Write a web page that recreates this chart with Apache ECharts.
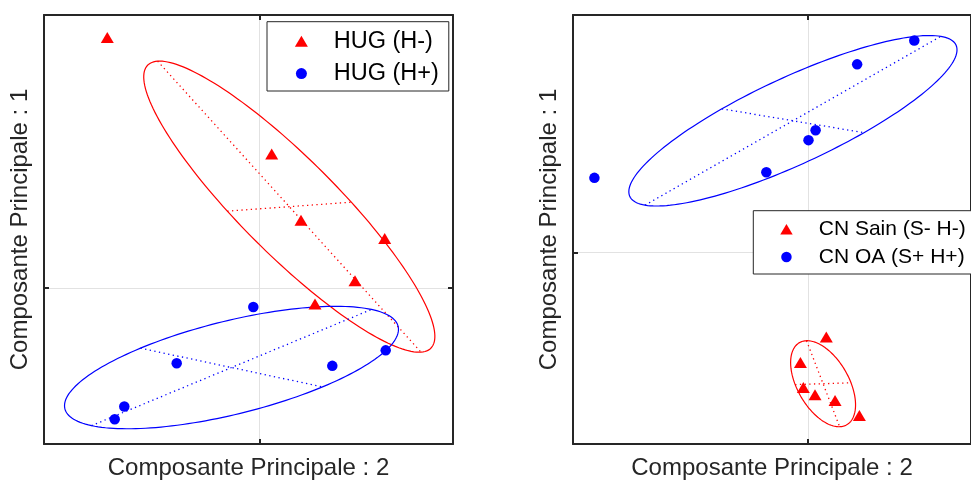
<!DOCTYPE html>
<html>
<head>
<meta charset="utf-8">
<script src="https://cdn.jsdelivr.net/npm/echarts@6/dist/echarts.min.js"></script>
<style>
html,body{margin:0;padding:0;background:#fff;}
#chart{width:971px;height:485px;}
</style>
</head>
<body>
<div id="chart"></div>
<script>
// ---- data ----
const hugNegX = [-1.524, 0.12, 0.413, 1.25, 0.953, 0.553];
const hugNegY = [2.523, 1.35, 0.683, 0.50, 0.073, -0.16];
const hugPosX = [-0.064, -0.83, 0.726, 1.26, -1.354, -1.45];
const hugPosY = [-0.19, -0.757, -0.783, -0.627, -1.193, -1.32];
const cnSainX = [0.186, -0.08, -0.05, 0.07, 0.276, 0.526];
const cnSainY = [-0.853, -1.11, -1.36, -1.433, -1.493, -1.643];
const cnOaX = [-2.197, -0.43, 0.003, 0.076, 0.503, 1.09];
const cnOaY = [0.75, 0.807, 1.13, 1.23, 1.893, 2.133];
// ellipses: [centerX, centerY, majorEndX, majorEndY, minorEndX, minorEndY]
const hugNegEllipse = [0.296, 0.82, 1.613, -0.645, 0.916, 0.865];
const hugPosEllipse = [-0.282, -0.80, 1.118, -0.215, 0.628, -0.995];
const cnSainEllipse = [0.153, -1.323, 0.323, -1.756, 0.44, -1.314];
const cnOaEllipse = [-0.157, 1.325, 1.363, 2.175, 0.573, 1.205];
const seriesNames = ['HUG (H-)', 'HUG (H+)', 'CN Sain (S- H-)', 'CN OA (S+ H+)'];
const xTitle = 'Composante Principale : 2';
const yTitle = 'Composante Principale : 1';
const leftRange = {xMin: -2.157, xMax: 1.933, yMin: -1.57, yMax: 2.75};
const rightRange = {xMin: -2.417, xMax: 1.673, yMin: -1.93, yMax: 2.39};
const zeroTicks = [0];

const FONT = "'Liberation Sans', Arial, sans-serif";
const DARK = '#262626';
const RED = '#ff0000', BLUE = '#0000ff';
// triangle legend icon, padded horizontally so it is not stretched across the icon box
const TRI_ICON = 'path://M0,5.5 L0,5.5 M54.6,5.5 L54.6,5.5 M27.3,0 L33.8,11 L20.8,11 Z';

function zip(xs, ys) { return xs.map((x, i) => [x, ys[i]]); }

function makeAxis(gridIndex, position, min, max, name, primary) {
  return {
    type: 'value', gridIndex, position, min, max,
    name: name || '', nameLocation: 'middle', nameGap: 12,
    nameTextStyle: {fontSize: 24, color: DARK, fontFamily: FONT, lineHeight: 24},
    axisLine: {show: true, onZero: false, lineStyle: {color: DARK, width: 2}},
    axisTick: {show: true, inside: true, length: 5, customValues: zeroTicks, lineStyle: {color: DARK, width: 2}},
    axisLabel: {show: false},
    splitLine: {show: !!primary, lineStyle: {color: '#e2e2e2', width: 1}}
  };
}

function ellipseRender(params, api) {
  const c = api.coord([api.value(0), api.value(1)]);
  const m = api.coord([api.value(2), api.value(3)]);
  const n = api.coord([api.value(4), api.value(5)]);
  const u = [m[0] - c[0], m[1] - c[1]];
  const v = [n[0] - c[0], n[1] - c[1]];
  const pts = [];
  const N = 180;
  for (let i = 0; i <= N; i++) {
    const t = i / N * 2 * Math.PI;
    pts.push([c[0] + Math.cos(t) * u[0] + Math.sin(t) * v[0],
              c[1] + Math.cos(t) * u[1] + Math.sin(t) * v[1]]);
  }
  const color = api.visual('color');
  return {
    type: 'group',
    children: [
      {type: 'polyline', shape: {points: pts}, style: {stroke: color, fill: null, lineWidth: 1.2}},
      {type: 'line', shape: {x1: c[0] - u[0], y1: c[1] - u[1], x2: m[0], y2: m[1]},
       style: {stroke: color, lineWidth: 1.3, lineDash: [1.3, 3.4]}},
      {type: 'line', shape: {x1: c[0] - v[0], y1: c[1] - v[1], x2: n[0], y2: n[1]},
       style: {stroke: color, lineWidth: 1.3, lineDash: [1.3, 3.4]}}
    ]
  };
}

function ellipseSeries(data, color, xi, yi) {
  return {type: 'custom', xAxisIndex: xi, yAxisIndex: yi, data: [data],
          itemStyle: {color}, renderItem: ellipseRender, clip: true, z: 2, silent: true};
}
function scatterSeries(name, data, color, symbol, xi, yi) {
  return {type: 'scatter', name, data, xAxisIndex: xi, yAxisIndex: yi,
          symbol, symbolSize: symbol === 'triangle' ? [13, 11] : 10.5,
          itemStyle: {color, opacity: 1}, z: 3};
}

const chart = echarts.init(document.getElementById('chart'), null, {renderer: 'canvas'});
chart.setOption({
  animation: false,
  backgroundColor: '#ffffff',
  grid: [
    {left: 44, top: 15, width: 409, height: 432},
    {left: 573, top: 15, width: 409, height: 432}
  ],
  xAxis: [
    makeAxis(0, 'bottom', leftRange.xMin, leftRange.xMax, xTitle, true),
    makeAxis(0, 'top', leftRange.xMin, leftRange.xMax, '', false),
    makeAxis(1, 'bottom', rightRange.xMin, rightRange.xMax, xTitle, true),
    makeAxis(1, 'top', rightRange.xMin, rightRange.xMax, '', false)
  ],
  yAxis: [
    makeAxis(0, 'left', leftRange.yMin, leftRange.yMax, yTitle, true),
    makeAxis(0, 'right', leftRange.yMin, leftRange.yMax, '', false),
    makeAxis(1, 'left', rightRange.yMin, rightRange.yMax, yTitle, true),
    makeAxis(1, 'right', rightRange.yMin, rightRange.yMax, '', false)
  ],
  legend: [
    {
      orient: 'vertical', left: 267, top: 21.7, selectedMode: false,
      data: [{name: seriesNames[0], icon: TRI_ICON}, {name: seriesNames[1], icon: 'circle'}],
      itemWidth: 54.6, itemHeight: 11, itemGap: 8.3,
      padding: [7.6, 10, 5.4, 7.1],
      borderColor: DARK, borderWidth: 1, backgroundColor: '#ffffff',
      textStyle: {fontSize: 23.5, lineHeight: 24, color: '#000', fontFamily: FONT}
    },
    {
      orient: 'vertical', left: 753.3, top: 210.7, selectedMode: false,
      data: [{name: seriesNames[2], icon: TRI_ICON}, {name: seriesNames[3], icon: 'circle'}],
      itemWidth: 54.6, itemHeight: 10.5, itemGap: 6.7,
      padding: [8.1, 10, 6.5, 7.1],
      borderColor: DARK, borderWidth: 1, backgroundColor: '#ffffff',
      textStyle: {fontSize: 21, lineHeight: 21, color: '#000', fontFamily: FONT}
    }
  ],
  series: [
    ellipseSeries(hugNegEllipse, RED, 0, 0),
    ellipseSeries(hugPosEllipse, BLUE, 0, 0),
    ellipseSeries(cnSainEllipse, RED, 2, 2),
    ellipseSeries(cnOaEllipse, BLUE, 2, 2),
    scatterSeries(seriesNames[0], zip(hugNegX, hugNegY), RED, 'triangle', 0, 0),
    scatterSeries(seriesNames[1], zip(hugPosX, hugPosY), BLUE, 'circle', 0, 0),
    scatterSeries(seriesNames[2], zip(cnSainX, cnSainY), RED, 'triangle', 2, 2),
    scatterSeries(seriesNames[3], zip(cnOaX, cnOaY), BLUE, 'circle', 2, 2)
  ]
});
</script>
</body>
</html>
